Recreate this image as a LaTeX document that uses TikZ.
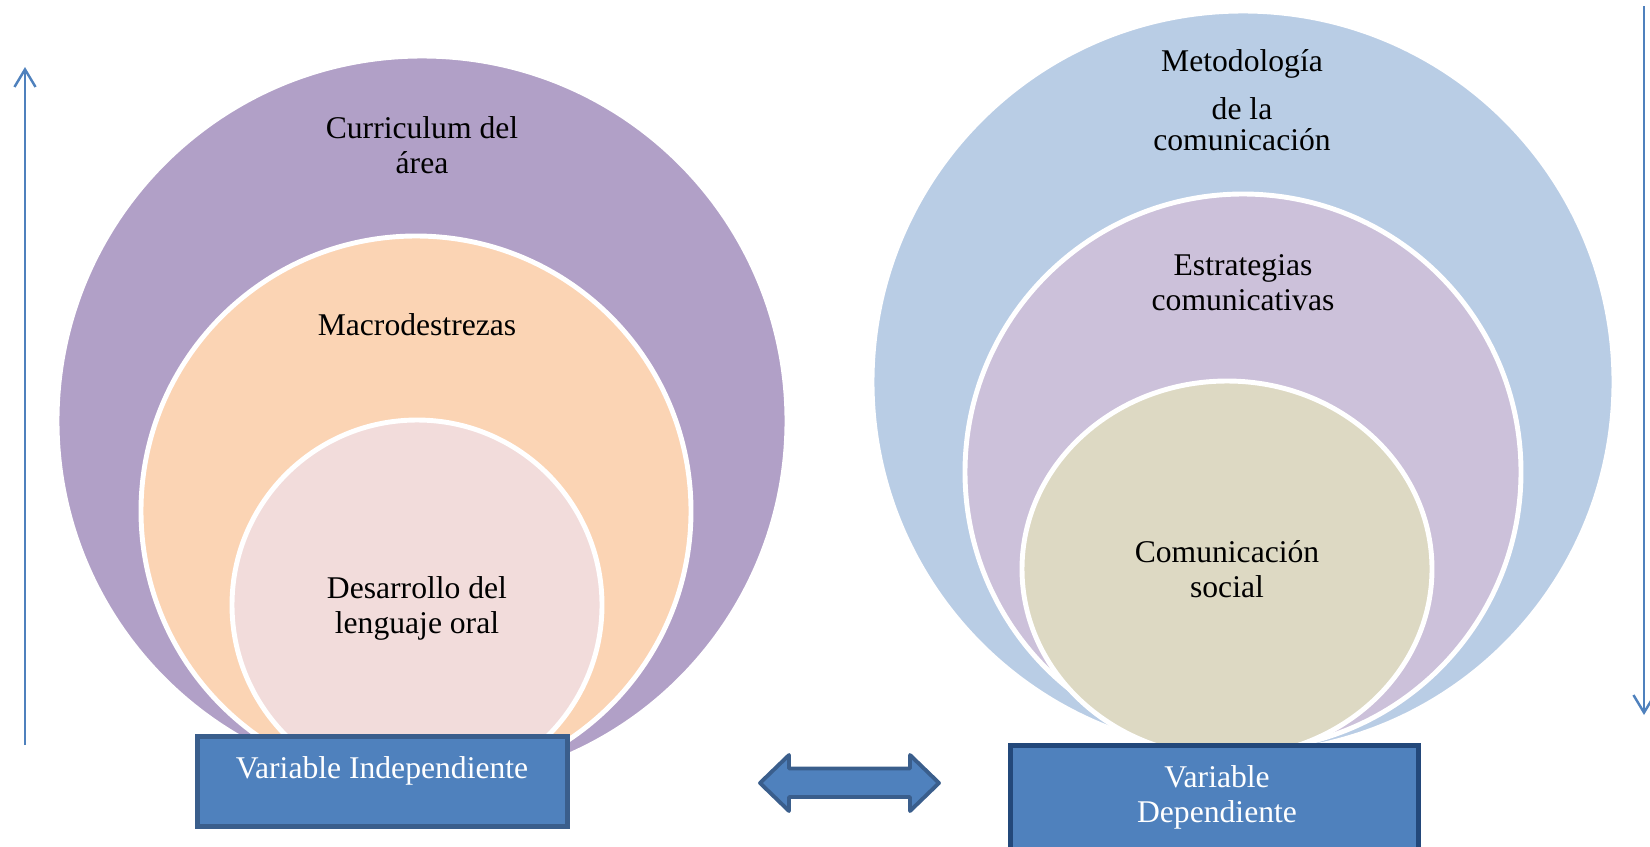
\documentclass[tikz,border=0pt]{standalone}
\usepackage{fontspec}
\setmainfont{Liberation Serif}
\usetikzlibrary{arrows.meta}

\definecolor{curricfill}{HTML}{B1A0C7}
\definecolor{macrofill}{HTML}{FBD4B4}
\definecolor{desarrfill}{HTML}{F2DCDB}
\definecolor{metodfill}{HTML}{B9CDE5}
\definecolor{estrfill}{HTML}{CCC1DA}
\definecolor{comfill}{HTML}{DDD9C3}
\definecolor{varfill}{HTML}{4F81BD}
\definecolor{varline}{HTML}{3A5E8C}
\definecolor{varlinedk}{HTML}{23487A}

\tikzset{
  ring/.style={draw=white, line width=2.8pt},
  lbl/.style={align=center, font=\fontsize{18}{20}\selectfont, inner sep=0pt},
  varbox/.style={fill=varfill, line width=2.8pt, inner sep=0pt},
  vartxt/.style={lbl, text=white},
  sidearrow/.style={draw=varfill, line width=1.4pt, -{Straight Barb[length=10pt,width=12pt]}}
}

\begin{document}
\begin{tikzpicture}[x=0.02cm, y=-0.02cm]
  \clip (0,0) rectangle (1650,846);

  % independent variable
  \filldraw[ring, fill=curricfill] (422,421) circle [radius=365];
  \filldraw[ring, fill=macrofill] (416,511) circle [radius=275];
  \filldraw[ring, fill=desarrfill] (417,605) circle [radius=185];
  \node[lbl] (curric) at (422,145) {Curriculum del\\área};
  \node[lbl] (macro) at (417,325) {Macrodestrezas};
  \node[lbl] (desarr) at (417,608) {Desarrollo del\\lenguaje oral};

  % dependent variable
  \filldraw[ring, fill=metodfill] (1243,382) circle [radius=371];
  \filldraw[ring, fill=estrfill] (1243,472) circle [radius=278];
  \filldraw[ring, fill=comfill] (1227,569) ellipse [x radius=205, y radius=188];
  \node[lbl] (metod) at (1242,100) {Metodología\\[7pt]de la\\[-2.4pt]comunicación};
  \node[lbl] (estr) at (1243,283) {Estrategias\\comunicativas};
  \node[lbl] (comsoc) at (1227,569) {Comunicación\\social};

  % variable boxes
  \node[varbox, draw=varline, minimum width=7.4cm, minimum height=1.8cm] (vind) at (382.5,781.5) {};
  \node[vartxt] (vindtxt) at (382,771) {Variable Independiente};
  \node[varbox, draw=varlinedk, minimum width=8.16cm, minimum height=2.5cm] (vdep) at (1214.5,808) {};
  \node[vartxt] (vdeptxt) at (1217,797) {Variable\\Dependiente};

  % relation between both
  \filldraw[draw=varline, fill=varfill, line width=2.2pt, line join=round]
    (760,783) -- (789,755) -- (789,768.5) -- (910,768.5) -- (910,755) -- (939,783)
    -- (910,811) -- (910,797) -- (789,797) -- (789,811) -- cycle;

  % side arrows
  \coordinate (upfrom) at (25,745);
  \coordinate (upto) at (25,67);
  \coordinate (downfrom) at (1644,6);
  \coordinate (downto) at (1644,715);
  \draw[sidearrow] (upfrom) -- (upto);
  \draw[sidearrow] (downfrom) -- (downto);
\end{tikzpicture}
\end{document}
